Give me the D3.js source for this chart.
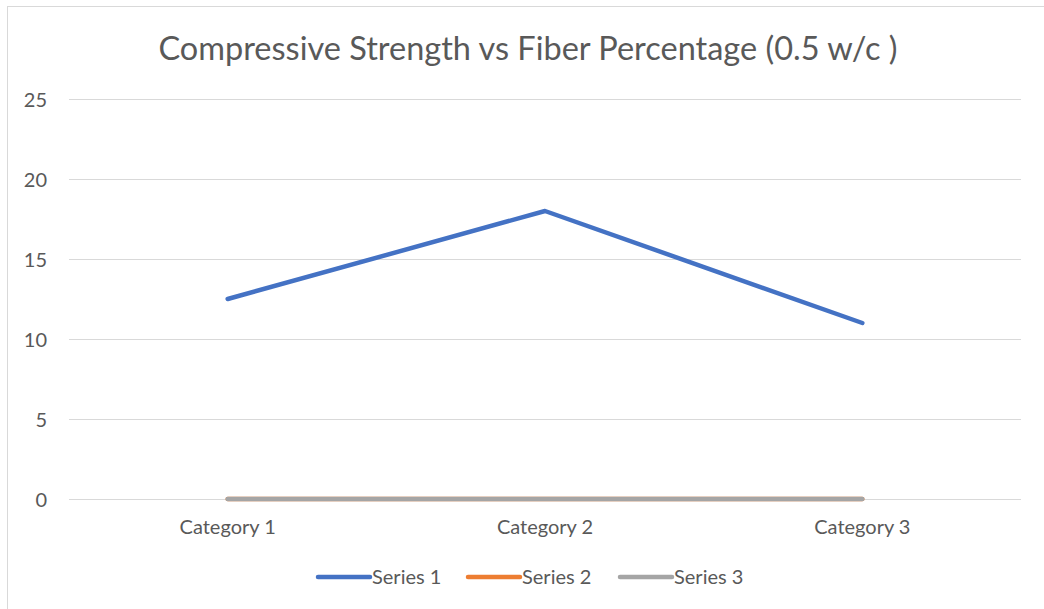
<!DOCTYPE html>
<html lang="en">
<head>
  <meta charset="UTF-8">
  <title>Compressive Strength vs Fiber Percentage</title>
  <script src="https://d3js.org/d3.v7.min.js"></script>
  <style>
    body { margin: 0; background: #fff; }
    text { font-family: Lato, "Open Sans", sans-serif; fill: #595959; }
    .grid line { stroke: #d9d9d9; stroke-width: 1px; }
    .grid path { display: none; }
    .axis path, .axis line { display: none; }
    .series { fill: none; stroke-width: 4.5px; stroke-linecap: round; stroke-linejoin: round; }
  </style>
</head>
<body>
  <div id="chart"></div>
  <script>
    var categories = ["Category 1", "Category 2", "Category 3"];
    var seriesNames = ["Series 1", "Series 2", "Series 3"];
    var series1 = [12.5, 18, 11];
    var series2 = [0, 0, 0];
    var series3 = [0, 0, 0];
    var yTicks = [0, 5, 10, 15, 20, 25];
    var colors = ["#4472c4", "#ed7d31", "#a5a5a5"];

    var w = 1044, h = 609;
    var plotLeft = 69, plotRight = 1021, plotTop = 99, plotBottom = 499;

    var svg = d3.select("#chart").append("svg")
      .attr("width", w)
      .attr("height", h);

    // chart border
    svg.append("rect")
      .attr("x", 7.5).attr("y", 6.5)
      .attr("width", 1060).attr("height", 640)
      .attr("fill", "none")
      .attr("stroke", "#d9d9d9");

    svg.append("text")
      .attr("x", 528).attr("y", 60)
      .attr("text-anchor", "middle")
      .style("font-size", "32.5px")
      .text("Compressive Strength vs Fiber Percentage (0.5 w/c )");

    var x = d3.scaleBand().domain(categories).range([plotLeft, plotRight]);
    var y = d3.scaleLinear().domain([0, 25]).range([plotBottom, plotTop]);

    svg.append("g")
      .attr("class", "grid")
      .attr("transform", "translate(" + plotLeft + ",0)")
      .call(d3.axisLeft(y).tickValues(yTicks).tickSize(-(plotRight - plotLeft)).tickFormat(""));

    var yAxis = svg.append("g")
      .attr("class", "axis")
      .attr("transform", "translate(47,0)")
      .call(d3.axisLeft(y).tickValues(yTicks).tickSize(0).tickPadding(0));
    yAxis.selectAll("text").style("font-size", "20px").attr("dy", "0.35em");

    var xAxis = svg.append("g")
      .attr("class", "axis")
      .attr("transform", "translate(0," + plotBottom + ")")
      .call(d3.axisBottom(x).tickSize(0).tickPadding(0));
    xAxis.selectAll("text").style("font-size", "20px").attr("dy", null).attr("y", 35);

    var line = d3.line()
      .x(function(d, i) { return x(categories[i]) + x.bandwidth() / 2; })
      .y(function(d) { return y(d); });

    var allSeries = [series1, series2, series3];
    allSeries.forEach(function(s, i) {
      svg.append("path")
        .attr("class", "series")
        .attr("d", line(s))
        .attr("stroke", colors[i]);
    });

    // legend
    var legendX = [318, 468, 620];
    var legend = svg.append("g");
    seriesNames.forEach(function(name, i) {
      legend.append("line")
        .attr("x1", legendX[i]).attr("x2", legendX[i] + 52)
        .attr("y1", 577).attr("y2", 577)
        .attr("stroke", colors[i])
        .attr("stroke-width", 4.5)
        .attr("stroke-linecap", "round");
      legend.append("text")
        .attr("x", legendX[i] + 54).attr("y", 584)
        .style("font-size", "20px")
        .text(name);
    });
  </script>
</body>
</html>
